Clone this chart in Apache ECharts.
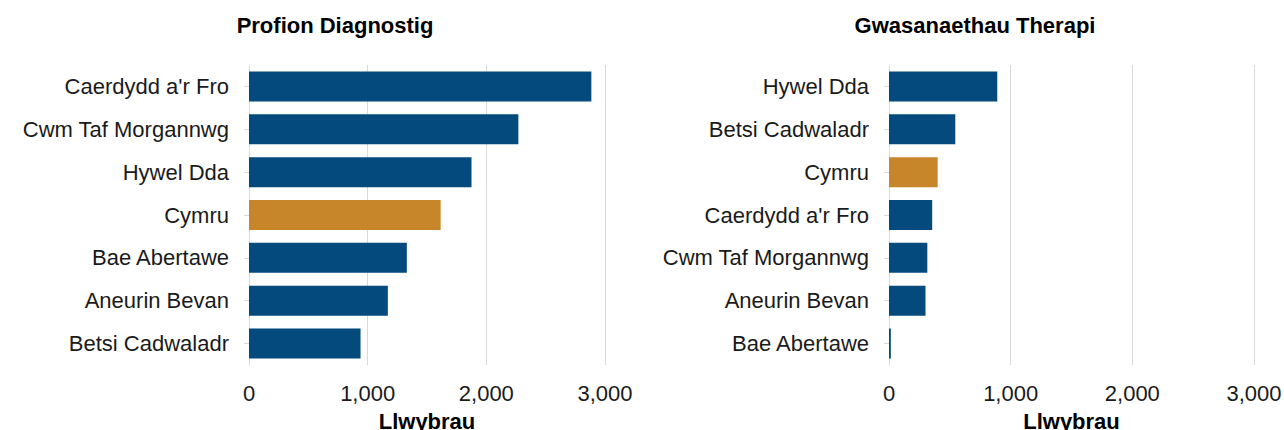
<!DOCTYPE html>
<html>
<head>
<meta charset="utf-8">
<script src="https://cdn.jsdelivr.net/npm/echarts@6/dist/echarts.min.js"></script>
<style>
  html, body { margin: 0; padding: 0; background: #fff; }
  #chart { width: 1284px; height: 430px; }
</style>
</head>
<body>
<div id="chart"></div>
<script>
(function() {
  // Profion Diagnostig
  var diagCats = ["Caerdydd a'r Fro", 'Cwm Taf Morgannwg', 'Hywel Dda', 'Cymru', 'Bae Abertawe', 'Aneurin Bevan', 'Betsi Cadwaladr'];
  var diagVals = [2885, 2270, 1875, 1615, 1330, 1170, 940];
  // Gwasanaethau Therapi
  var therCats = ['Hywel Dda', 'Betsi Cadwaladr', 'Cymru', "Caerdydd a'r Fro", 'Cwm Taf Morgannwg', 'Aneurin Bevan', 'Bae Abertawe'];
  var therVals = [890, 545, 400, 355, 315, 300, 15];
  var xTicks = [0, 1000, 2000, 3000];
  var highlight = 'Cymru';

  var blue = '#044a7c';
  var orange = '#c8862a';
  var rule = '#d9d9d9';
  var ink = '#1a1a1a';
  var font = 'Liberation Sans';

  function barData(cats, vals) {
    return vals.map(function(v, i) {
      return { value: v, itemStyle: { color: cats[i] === highlight ? orange : blue } };
    });
  }

  function xAxis(idx) {
    return {
      type: 'value', gridIndex: idx,
      min: xTicks[0], max: xTicks[xTicks.length - 1], interval: 1000,
      name: 'Llwybrau', nameLocation: 'middle', nameGap: 45,
      nameTextStyle: { color: '#000', fontSize: 22, fontWeight: 'bold', fontFamily: font },
      axisLabel: {
        color: ink, fontSize: 22, margin: 17, fontFamily: font,
        formatter: function(v) { return v.toLocaleString('en-GB'); }
      },
      axisLine: { show: false },
      axisTick: { show: false },
      splitLine: { show: true, lineStyle: { color: rule, width: 1 } }
    };
  }

  function yAxis(idx, cats) {
    return {
      type: 'category', gridIndex: idx, data: cats, inverse: true,
      axisLabel: { color: ink, fontSize: 22, margin: 20, fontFamily: font },
      axisLine: { show: true, lineStyle: { color: rule } },
      axisTick: { show: true, length: 5, alignWithLabel: true, lineStyle: { color: rule } }
    };
  }

  var chart = echarts.init(document.getElementById('chart'), null, { renderer: 'svg' });
  chart.setOption({
    animation: false,
    title: [
      { text: 'Profion Diagnostig', left: 330, top: 9, textAlign: 'center',
        textStyle: { color: '#000', fontSize: 22, fontWeight: 'bold', fontFamily: font } },
      { text: 'Gwasanaethau Therapi', left: 970, top: 9, textAlign: 'center',
        textStyle: { color: '#000', fontSize: 22, fontWeight: 'bold', fontFamily: font } }
    ],
    grid: [
      { left: 249, width: 356, top: 65, height: 300, outerBoundsMode: 'none', containLabel: false },
      { left: 889, width: 365, top: 65, height: 300, outerBoundsMode: 'none', containLabel: false }
    ],
    xAxis: [xAxis(0), xAxis(1)],
    yAxis: [yAxis(0, diagCats), yAxis(1, therCats)],
    series: [
      { type: 'bar', xAxisIndex: 0, yAxisIndex: 0, barWidth: '70%', data: barData(diagCats, diagVals) },
      { type: 'bar', xAxisIndex: 1, yAxisIndex: 1, barWidth: '70%', data: barData(therCats, therVals) }
    ]
  });
})();
</script>
</body>
</html>
